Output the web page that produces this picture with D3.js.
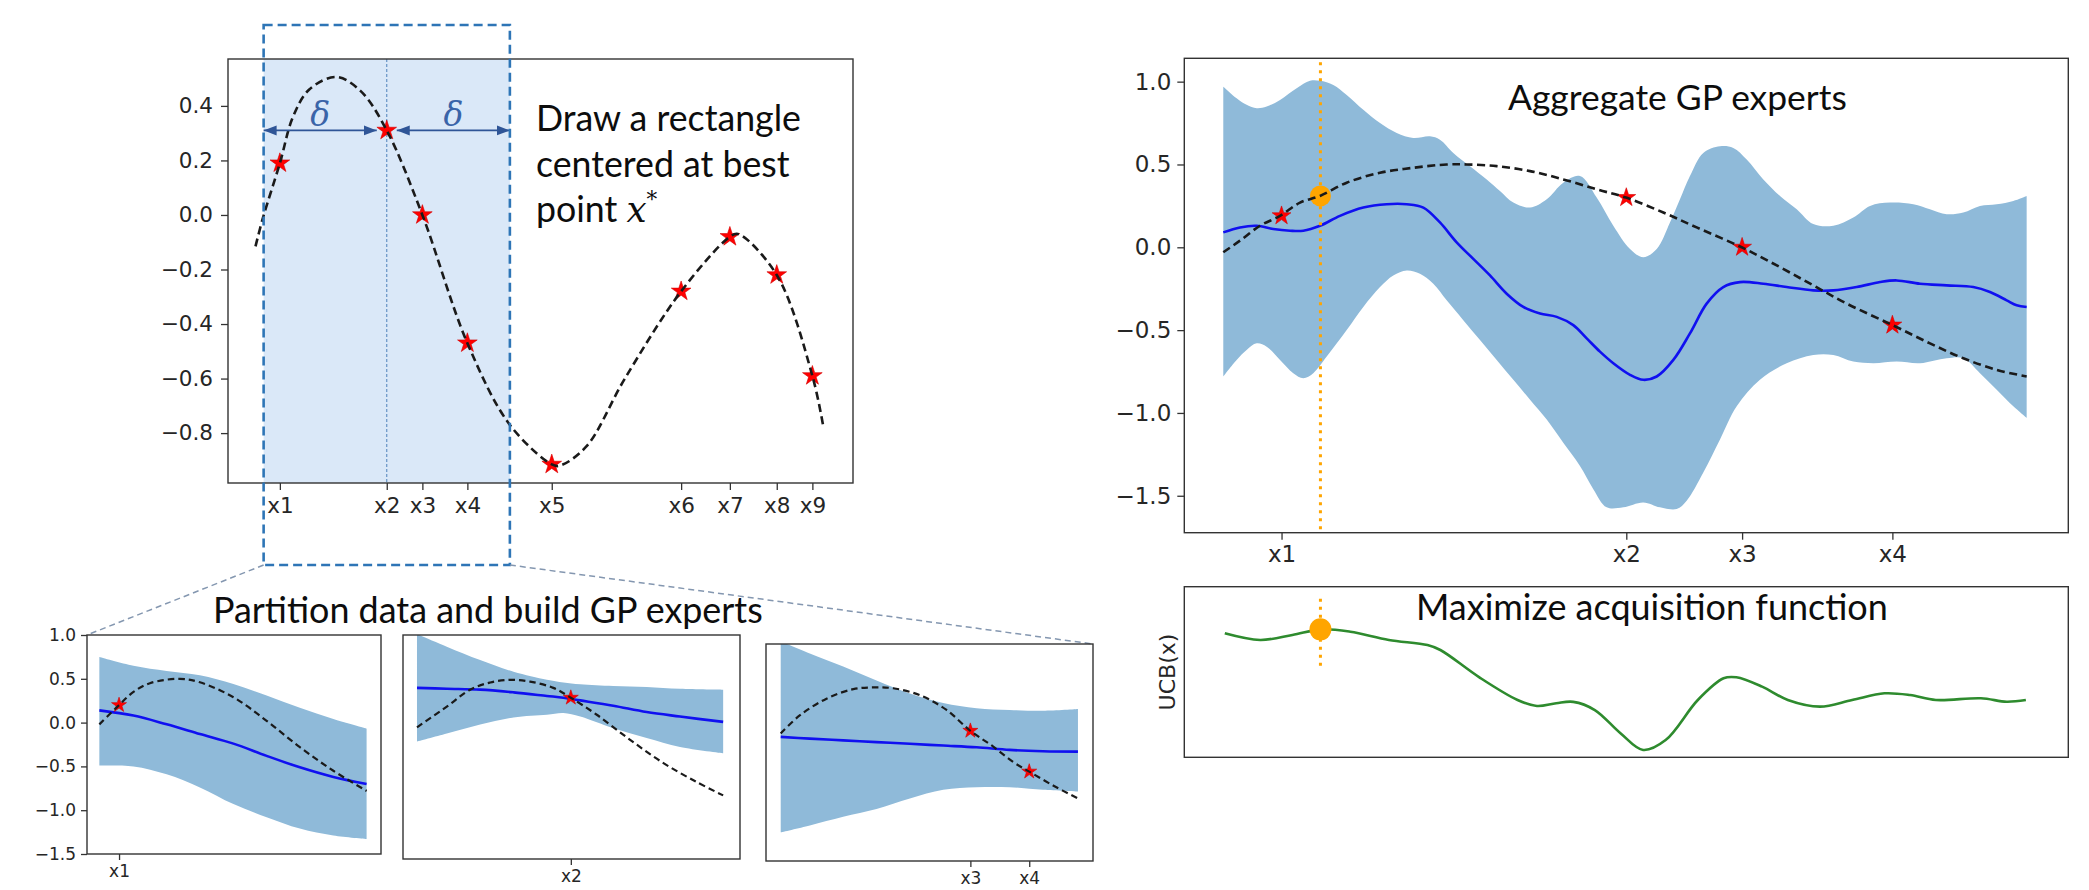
<!DOCTYPE html>
<html>
<head>
<meta charset="utf-8">
<script src="https://cdn.jsdelivr.net/npm/d3@7"></script>
<style>
  body { margin: 0; background: #fff; }
  svg { display: block; }
  .note { font-family: Lato, "Open Sans", sans-serif; fill: #0d0d0d; }
</style>
</head>
<body>
<div id="chart"></div>
<script>
// ---------------- data ----------------

// top-left: objective and the nine samples (x in panel units 0..10)
var objX = [0.44, 0.56, 0.83, 1.04, 1.30, 1.73, 2.12, 2.54, 3.11, 3.83, 4.51, 5.18, 5.30, 5.73, 6.35, 7.25, 8.03, 8.16, 8.78, 9.35, 9.52];
var objY = [-0.115, -0.01, 0.19, 0.36, 0.46, 0.506, 0.455, 0.31, 0.0, -0.47, -0.77, -0.915, -0.92, -0.85, -0.60, -0.28, -0.08, -0.07, -0.22, -0.59, -0.77];
var sampleLabels = ["x1", "x2", "x3", "x4", "x5", "x6", "x7", "x8", "x9"];
var sampleX = [0.83, 2.54, 3.11, 3.83, 5.18, 7.25, 8.03, 8.78, 9.35];
var sampleY = [0.19, 0.31, 0.0, -0.47, -0.915, -0.28, -0.08, -0.22, -0.59];
var bestIdx = 1;      // x2 is the incumbent
var delta = 1.97;     // half width of the rectangle
var objTicks = [-0.8, -0.6, -0.4, -0.2, 0.0, 0.2, 0.4];

// bottom-left: three local GP experts (x in 0..100 inside each panel)
var exp1X = [4.2, 15.8, 27.1, 38.4, 49.8, 61.1, 72.4, 83.8, 95.1];
var exp1Upper = [0.75, 0.65, 0.59, 0.54, 0.44, 0.31, 0.17, 0.04, -0.07];
var exp1Lower = [-0.49, -0.50, -0.59, -0.74, -0.93, -1.08, -1.21, -1.29, -1.33];
var exp1Mean = [0.14, 0.08, -0.02, -0.13, -0.24, -0.38, -0.51, -0.62, -0.70];
var exp1TrueX = [4.2, 10.9, 15.8, 21.4, 31.6, 38.4, 49.8, 61.1, 72.4, 83.8, 95.1];
var exp1TrueY = [-0.02, 0.20, 0.35, 0.45, 0.50, 0.46, 0.29, 0.02, -0.28, -0.55, -0.78];
var exp1PtX = [10.9], exp1PtY = [0.20], exp1Labels = ["x1"];

var exp2X = [4.15, 13.0, 22.9, 32.8, 42.7, 47.6, 52.6, 62.4, 72.3, 82.2, 95.0];
var exp2Upper = [1.01, 0.87, 0.72, 0.59, 0.50, 0.47, 0.45, 0.43, 0.42, 0.40, 0.39];
var exp2Lower = [-0.19, -0.10, 0.00, 0.08, 0.11, 0.13, 0.09, -0.04, -0.15, -0.25, -0.32];
var exp2Mean = [0.41, 0.40, 0.39, 0.36, 0.32, 0.30, 0.27, 0.21, 0.14, 0.09, 0.03];
var exp2TrueX = [4.15, 13.0, 19.9, 25.9, 31.8, 37.7, 44.6, 49.8, 57.5, 67.4, 77.3, 87.1, 95.0];
var exp2TrueY = [-0.03, 0.20, 0.39, 0.47, 0.50, 0.48, 0.41, 0.30, 0.11, -0.17, -0.43, -0.64, -0.79];
var exp2PtX = [49.8], exp2PtY = [0.30], exp2Labels = ["x2"];

var exp3X = [4.5, 13.4, 23.6, 33.8, 44.0, 54.2, 64.4, 74.5, 84.7, 95.4];
var exp3Upper = [1.03, 0.89, 0.74, 0.58, 0.43, 0.32, 0.26, 0.24, 0.23, 0.25];
var exp3Lower = [-1.17, -1.09, -0.99, -0.90, -0.78, -0.68, -0.65, -0.65, -0.68, -0.70];
var exp3Mean = [-0.07, -0.09, -0.11, -0.13, -0.15, -0.17, -0.19, -0.22, -0.235, -0.24];
var exp3TrueX = [4.5, 10.4, 18.5, 26.7, 32.8, 38.9, 47.1, 55.2, 62.5, 69.4, 75.6, 80.5, 87.8, 95.4];
var exp3TrueY = [-0.03, 0.18, 0.37, 0.48, 0.50, 0.49, 0.41, 0.24, 0.00, -0.18, -0.36, -0.47, -0.63, -0.78];
var exp3PtX = [62.5, 80.5], exp3PtY = [0.00, -0.47], exp3Labels = ["x3", "x4"];

var expertTicks = [-1.5, -1.0, -0.5, 0.0, 0.5, 1.0];

// top-right: aggregated GP (x in 0..100)
var aggUpperX = [4.41, 5.92, 7.05, 8.19, 9.32, 10.83, 12.71, 14.22, 15.35, 16.86, 18.37, 20.25, 22.14, 24.03, 25.9, 27.79, 28.92, 30.43, 32.32, 34.21, 35.71, 37.22, 39.11, 41.0, 42.87, 44.76, 46.65, 48.53, 50.42, 51.92, 53.44, 54.94, 56.07, 57.2, 58.71, 60.6, 62.1, 63.62, 65.5, 67.39, 69.28, 71.15, 73.42, 75.68, 77.57, 79.83, 82.47, 84.35, 86.24, 88.12, 90.01, 91.9, 93.78, 95.29];
var aggUpperY = [0.97, 0.90, 0.86, 0.84, 0.85, 0.89, 0.96, 1.005, 1.005, 0.98, 0.92, 0.83, 0.75, 0.69, 0.66, 0.67, 0.65, 0.57, 0.49, 0.41, 0.34, 0.27, 0.24, 0.29, 0.39, 0.43, 0.30, 0.13, -0.01, -0.06, -0.01, 0.15, 0.29, 0.43, 0.57, 0.61, 0.60, 0.53, 0.41, 0.31, 0.23, 0.14, 0.13, 0.18, 0.25, 0.27, 0.26, 0.23, 0.20, 0.21, 0.25, 0.26, 0.28, 0.31];
var aggLowerX = [4.41, 5.92, 7.05, 8.19, 9.32, 10.83, 12.33, 13.46, 14.59, 16.11, 18.37, 20.25, 22.14, 23.64, 25.16, 26.66, 28.17, 29.68, 31.56, 33.45, 35.34, 37.22, 39.11, 41.0, 42.87, 44.76, 46.27, 47.78, 49.66, 51.92, 53.81, 55.7, 56.83, 58.71, 60.6, 62.49, 65.12, 68.14, 71.15, 73.42, 75.68, 77.94, 80.59, 83.22, 86.24, 88.12, 90.01, 91.9, 93.78, 95.29];
var aggLowerY = [-0.78, -0.68, -0.62, -0.58, -0.60, -0.68, -0.76, -0.79, -0.76, -0.66, -0.50, -0.36, -0.24, -0.17, -0.14, -0.16, -0.22, -0.32, -0.44, -0.56, -0.68, -0.80, -0.92, -1.04, -1.18, -1.32, -1.46, -1.57, -1.57, -1.54, -1.57, -1.58, -1.53, -1.36, -1.16, -0.96, -0.80, -0.70, -0.65, -0.65, -0.69, -0.70, -0.69, -0.70, -0.67, -0.67, -0.76, -0.86, -0.96, -1.03];
var aggMeanX = [4.41, 6.30, 8.19, 10.07, 11.96, 13.46, 15.35, 17.61, 20.25, 22.9, 25.16, 27.04, 28.92, 30.81, 32.69, 34.58, 36.47, 38.35, 40.24, 42.13, 44.0, 45.52, 47.02, 48.53, 50.42, 51.92, 53.44, 55.32, 57.2, 59.09, 60.97, 62.86, 65.5, 68.14, 71.15, 73.42, 76.06, 78.7, 80.59, 83.22, 86.24, 89.25, 91.14, 93.03, 94.16, 95.29];
var aggMeanY = [0.09, 0.12, 0.13, 0.11, 0.10, 0.10, 0.13, 0.19, 0.24, 0.26, 0.26, 0.24, 0.15, 0.03, -0.07, -0.17, -0.28, -0.36, -0.40, -0.42, -0.47, -0.55, -0.63, -0.70, -0.77, -0.80, -0.78, -0.68, -0.52, -0.34, -0.24, -0.21, -0.22, -0.24, -0.26, -0.26, -0.24, -0.21, -0.20, -0.22, -0.23, -0.24, -0.27, -0.32, -0.35, -0.36];
var trueX = [4.41, 6.30, 8.56, 10.83, 13.09, 15.35, 18.37, 22.14, 25.9, 29.68, 31.95, 35.34, 39.11, 42.87, 46.65, 49.97, 54.19, 57.96, 63.05, 67.39, 71.15, 74.93, 80.13, 84.35, 88.12, 91.9, 95.29];
var trueY = [-0.03, 0.04, 0.13, 0.19, 0.27, 0.31, 0.39, 0.45, 0.48, 0.50, 0.50, 0.49, 0.46, 0.41, 0.35, 0.30, 0.21, 0.12, 0.00, -0.12, -0.23, -0.34, -0.47, -0.58, -0.67, -0.74, -0.78];
var aggPtX = [11.0, 50.0, 63.1, 80.1];
var aggPtY = [0.19, 0.30, 0.0, -0.47];
var aggLabels = ["x1", "x2", "x3", "x4"];
var aggTicks = [-1.5, -1.0, -0.5, 0.0, 0.5, 1.0];
var nextX = 15.4, nextY = 0.31;

// bottom-right: acquisition function (arbitrary units 0..1)
var ucbX = [4.58, 8.59, 12.23, 15.5, 18.78, 23.14, 27.51, 28.97, 33.34, 37.7, 39.89, 42.07, 44.0, 46.44, 49.34, 51.9, 54.45, 58.09, 61.0, 62.45, 65.36, 68.27, 71.91, 75.55, 79.2, 82.1, 85.02, 90.11, 93.02, 95.2];
var ucbY = [0.727, 0.688, 0.717, 0.750, 0.736, 0.688, 0.658, 0.629, 0.47, 0.336, 0.301, 0.317, 0.325, 0.277, 0.141, 0.043, 0.101, 0.336, 0.463, 0.469, 0.414, 0.336, 0.297, 0.336, 0.375, 0.365, 0.336, 0.346, 0.326, 0.336];
var ucbMax = 0.75, ucbLineLo = 0.53, ucbLineHi = 0.93;

// ---------------- drawing ----------------
var BAND = "#8fbad9", MEAN = "#1010f0", TRUE_C = "#1a1a1a", STAR = "#ff0000",
    ORANGE = "#ffa500", GREEN = "#2e8b2e", SPINE = "#333333";

var svg = d3.select("#chart").append("svg").attr("width", 2089).attr("height", 890);
var defs = svg.append("defs");

defs.append("marker")
    .attr("id", "arrow").attr("viewBox", "0 0 10 10")
    .attr("refX", 10).attr("refY", 5)
    .attr("markerWidth", 13).attr("markerHeight", 13)
    .attr("markerUnits", "userSpaceOnUse")
    .attr("orient", "auto-start-reverse")
    .append("path").attr("d", "M0,1.2L10,5L0,8.8Z").attr("fill", "#2f5597");

function makePanel(box, xDomain, yDomain, id) {
    var p = { box: box };
    p.x = d3.scaleLinear().domain(xDomain).range([box.left, box.right]);
    p.y = d3.scaleLinear().domain(yDomain).range([box.bottom, box.top]);
    defs.append("clipPath").attr("id", id).append("rect")
        .attr("x", box.left).attr("y", box.top)
        .attr("width", box.right - box.left).attr("height", box.bottom - box.top);
    p.g = svg.append("g");
    p.inner = p.g.append("g").attr("clip-path", "url(#" + id + ")");
    return p;
}

function linePath(p, xs, ys) {
    return d3.line().curve(d3.curveCatmullRom.alpha(0.5))
        .x(function(d) { return p.x(d[0]); })
        .y(function(d) { return p.y(d[1]); })(d3.zip(xs, ys));
}

// upper edge left->right, then lower edge back right->left
function bandPath(p, ux, uy, lx, ly) {
    var up = linePath(p, ux, uy);
    var lo = d3.line().curve(d3.curveCatmullRom.alpha(0.5))
        .x(function(d) { return p.x(d[0]); })
        .y(function(d) { return p.y(d[1]); })(d3.zip(lx, ly).reverse());
    return up + "L" + lo.slice(1) + "Z";
}

function stars(sel, p, xs, ys, size) {
    sel.selectAll(null).data(d3.zip(xs, ys)).enter().append("path")
        .attr("d", d3.symbol().type(d3.symbolStar).size(size))
        .attr("transform", function(d) { return "translate(" + p.x(d[0]) + "," + p.y(d[1]) + ")"; })
        .attr("fill", STAR).attr("stroke", "#d40000").attr("stroke-width", 0.6);
}

function frame(p) {
    var b = p.box;
    p.g.append("rect")
        .attr("x", b.left).attr("y", b.top)
        .attr("width", b.right - b.left).attr("height", b.bottom - b.top)
        .attr("fill", "none").attr("stroke", SPINE).attr("stroke-width", 1.4);
}

function styleAxis(a, fs) {
    a.select(".domain").remove();
    a.attr("font-family", "'DejaVu Sans', sans-serif").attr("font-size", fs);
    a.selectAll(".tick text").attr("fill", "#262626");
    a.selectAll(".tick line").attr("stroke", SPINE).attr("stroke-width", 1.3);
}

function xTicks(p, vals, labels, fs, size, pad) {
    p.g.append("g").attr("transform", "translate(0," + p.box.bottom + ")")
        .call(d3.axisBottom(p.x).tickValues(vals)
            .tickFormat(function(d, i) { return labels[i]; })
            .tickSize(size).tickPadding(pad).tickSizeOuter(0))
        .call(styleAxis, fs);
}

function yTicks(p, vals, fs, size, pad) {
    p.g.append("g").attr("transform", "translate(" + p.box.left + ",0)")
        .call(d3.axisLeft(p.y).tickValues(vals).tickFormat(d3.format(".1f"))
            .tickSize(size).tickPadding(pad).tickSizeOuter(0))
        .call(styleAxis, fs);
}

function fit(t, width) {
    var fs = parseFloat(t.attr("font-size"));
    var w = t.node().getComputedTextLength();
    t.attr("font-size", fs * width / w);
    return fs * width / w;
}

// ---- top-left: sampled objective with rectangle around the best point ----
var tl = makePanel({ left: 228, right: 853, top: 59, bottom: 483 }, [0, 10], [-0.983, 0.572], "clip-tl");
var bx = sampleX[bestIdx], by = sampleY[bestIdx];
var rx0 = tl.x(bx - delta), rx1 = tl.x(bx + delta);

tl.inner.append("rect")
    .attr("x", rx0).attr("y", tl.box.top)
    .attr("width", rx1 - rx0).attr("height", tl.box.bottom - tl.box.top)
    .attr("fill", "#dae8f8");
tl.inner.append("line")
    .attr("x1", tl.x(bx)).attr("x2", tl.x(bx))
    .attr("y1", tl.box.top).attr("y2", tl.box.bottom)
    .attr("stroke", "#5b8bc0").attr("stroke-width", 1.1)
    .attr("stroke-dasharray", "3,2");
stars(tl.inner, tl, sampleX, sampleY, 120);
tl.inner.append("path").attr("d", linePath(tl, objX, objY))
    .attr("fill", "none").attr("stroke", TRUE_C).attr("stroke-width", 2.6)
    .attr("stroke-dasharray", "8,4.5");

// delta arrows
var ay = tl.y(by);
[[rx0, tl.x(bx) - 10], [tl.x(bx) + 10, rx1]].forEach(function(seg) {
    tl.g.append("line")
        .attr("x1", seg[0]).attr("x2", seg[1]).attr("y1", ay).attr("y2", ay)
        .attr("stroke", "#2f5597").attr("stroke-width", 1.8)
        .attr("marker-start", "url(#arrow)").attr("marker-end", "url(#arrow)");
    tl.g.append("text")
        .attr("x", (seg[0] + seg[1]) / 2).attr("y", ay - 4)
        .attr("text-anchor", "middle")
        .attr("font-family", "'DejaVu Serif', serif").attr("font-style", "italic")
        .attr("font-size", 33).attr("fill", "#3a64a8")
        .text("\u03b4");
});

frame(tl);
xTicks(tl, sampleX, sampleLabels, 21.5, 7, 8);
yTicks(tl, objTicks, 21.5, 7, 8);

// dashed selection rectangle and the zoom guides
var selTop = 25, selBottom = 565;
svg.append("rect")
    .attr("x", rx0).attr("y", selTop)
    .attr("width", rx1 - rx0).attr("height", selBottom - selTop)
    .attr("fill", "none").attr("stroke", "#2e75b6")
    .attr("stroke-width", 2.6).attr("stroke-dasharray", "9,5");

// note text
var n1 = svg.append("text").attr("class", "note").attr("x", 536).attr("y", 131)
    .attr("font-size", 36).text("Draw a rectangle");
var nfs = fit(n1, 265);
svg.append("text").attr("class", "note").attr("x", 536).attr("y", 177)
    .attr("font-size", nfs).text("centered at best");
var n3 = svg.append("text").attr("class", "note").attr("x", 536).attr("y", 222)
    .attr("font-size", nfs);
n3.append("tspan").text("point ");
n3.append("tspan").attr("font-family", "'DejaVu Serif', serif").attr("font-style", "italic").text("x");
n3.append("tspan").attr("font-family", "'DejaVu Serif', serif").attr("font-size", nfs * 0.6)
    .attr("dy", -15).text("*");

// ---- bottom-left: local experts ----
var expertBoxes = [
    { left: 87, right: 381, top: 635, bottom: 854 },
    { left: 403, right: 740, top: 635, bottom: 859 },
    { left: 766, right: 1093, top: 644, bottom: 861 }
];
var experts = [
    { x: exp1X, up: exp1Upper, lo: exp1Lower, mean: exp1Mean, tx: exp1TrueX, ty: exp1TrueY, px: exp1PtX, py: exp1PtY, labels: exp1Labels },
    { x: exp2X, up: exp2Upper, lo: exp2Lower, mean: exp2Mean, tx: exp2TrueX, ty: exp2TrueY, px: exp2PtX, py: exp2PtY, labels: exp2Labels },
    { x: exp3X, up: exp3Upper, lo: exp3Lower, mean: exp3Mean, tx: exp3TrueX, ty: exp3TrueY, px: exp3PtX, py: exp3PtY, labels: exp3Labels }
];

// guide lines from the selection to the expert panels
var gb0 = expertBoxes[0], gb2 = expertBoxes[2];
[[rx0, selBottom, gb0.left, gb0.top], [rx1, selBottom, gb2.right, gb2.top]].forEach(function(l) {
    svg.append("line")
        .attr("x1", l[0]).attr("y1", l[1]).attr("x2", l[2]).attr("y2", l[3])
        .attr("stroke", "#8497b0").attr("stroke-width", 1.5).attr("stroke-dasharray", "6,4");
});

experts.forEach(function(e, i) {
    var p = makePanel(expertBoxes[i], [0, 100], [-1.5, 1.0], "clip-exp" + i);
    p.inner.append("path").attr("d", bandPath(p, e.x, e.up, e.x, e.lo)).attr("fill", BAND);
    p.inner.append("path").attr("d", linePath(p, e.x, e.mean))
        .attr("fill", "none").attr("stroke", MEAN).attr("stroke-width", 2.6);
    stars(p.inner, p, e.px, e.py, 70);
    p.inner.append("path").attr("d", linePath(p, e.tx, e.ty))
        .attr("fill", "none").attr("stroke", TRUE_C).attr("stroke-width", 2.2)
        .attr("stroke-dasharray", "6.5,4");
    frame(p);
    xTicks(p, e.px, e.labels, 17, 6, 5);
    if (i === 0) yTicks(p, expertTicks, 17, 6, 5);
});

var t2 = svg.append("text").attr("class", "note").attr("x", 213).attr("y", 623)
    .attr("font-size", 33).text("Partition data and build GP experts");
fit(t2, 550);

// ---- top-right: aggregated GP ----
var ag = makePanel({ left: 1184.3, right: 2068.3, top: 58.3, bottom: 532.7 }, [0, 100], [-1.723, 1.141], "clip-agg");
ag.inner.append("path").attr("d", bandPath(ag, aggUpperX, aggUpperY, aggLowerX, aggLowerY)).attr("fill", BAND);
ag.inner.append("path").attr("d", linePath(ag, aggMeanX, aggMeanY))
    .attr("fill", "none").attr("stroke", MEAN).attr("stroke-width", 2.6);
ag.inner.append("line")
    .attr("x1", ag.x(nextX)).attr("x2", ag.x(nextX))
    .attr("y1", ag.box.top + 4).attr("y2", ag.box.bottom)
    .attr("stroke", ORANGE).attr("stroke-width", 3).attr("stroke-dasharray", "3,5");
ag.inner.append("circle").attr("cx", ag.x(nextX)).attr("cy", ag.y(nextY)).attr("r", 10.5)
    .attr("fill", ORANGE);
stars(ag.inner, ag, aggPtX, aggPtY, 110);
ag.inner.append("path").attr("d", linePath(ag, trueX, trueY))
    .attr("fill", "none").attr("stroke", TRUE_C).attr("stroke-width", 2.6)
    .attr("stroke-dasharray", "8,4.5");
frame(ag);
xTicks(ag, aggPtX, aggLabels, 23, 7, 6);
yTicks(ag, aggTicks, 23, 7, 6);

var t3 = svg.append("text").attr("class", "note").attr("x", 1508).attr("y", 110)
    .attr("font-size", 33).text("Aggregate GP experts");
fit(t3, 339);

// ---- bottom-right: acquisition function ----
var uc = makePanel({ left: 1184.3, right: 2068.3, top: 586.7, bottom: 757.3 }, [0, 100], [0, 1], "clip-ucb");
uc.inner.append("path").attr("d", linePath(uc, ucbX, ucbY))
    .attr("fill", "none").attr("stroke", GREEN).attr("stroke-width", 2.6);
uc.inner.append("line")
    .attr("x1", uc.x(nextX)).attr("x2", uc.x(nextX))
    .attr("y1", uc.y(ucbLineHi)).attr("y2", uc.y(ucbLineLo))
    .attr("stroke", ORANGE).attr("stroke-width", 3).attr("stroke-dasharray", "3,5");
uc.inner.append("circle").attr("cx", uc.x(nextX)).attr("cy", uc.y(ucbMax)).attr("r", 11)
    .attr("fill", ORANGE);
frame(uc);

svg.append("text")
    .attr("transform", "translate(1167," + ((uc.box.top + uc.box.bottom) / 2) + ") rotate(-90)")
    .attr("text-anchor", "middle").attr("dominant-baseline", "central")
    .attr("font-family", "'DejaVu Sans', sans-serif").attr("font-size", 22)
    .attr("fill", "#262626").text("UCB(x)");

var t4 = svg.append("text").attr("class", "note").attr("x", 1416).attr("y", 620)
    .attr("font-size", 33).text("Maximize acquisition function");
fit(t4, 472);
</script>
</body>
</html>
